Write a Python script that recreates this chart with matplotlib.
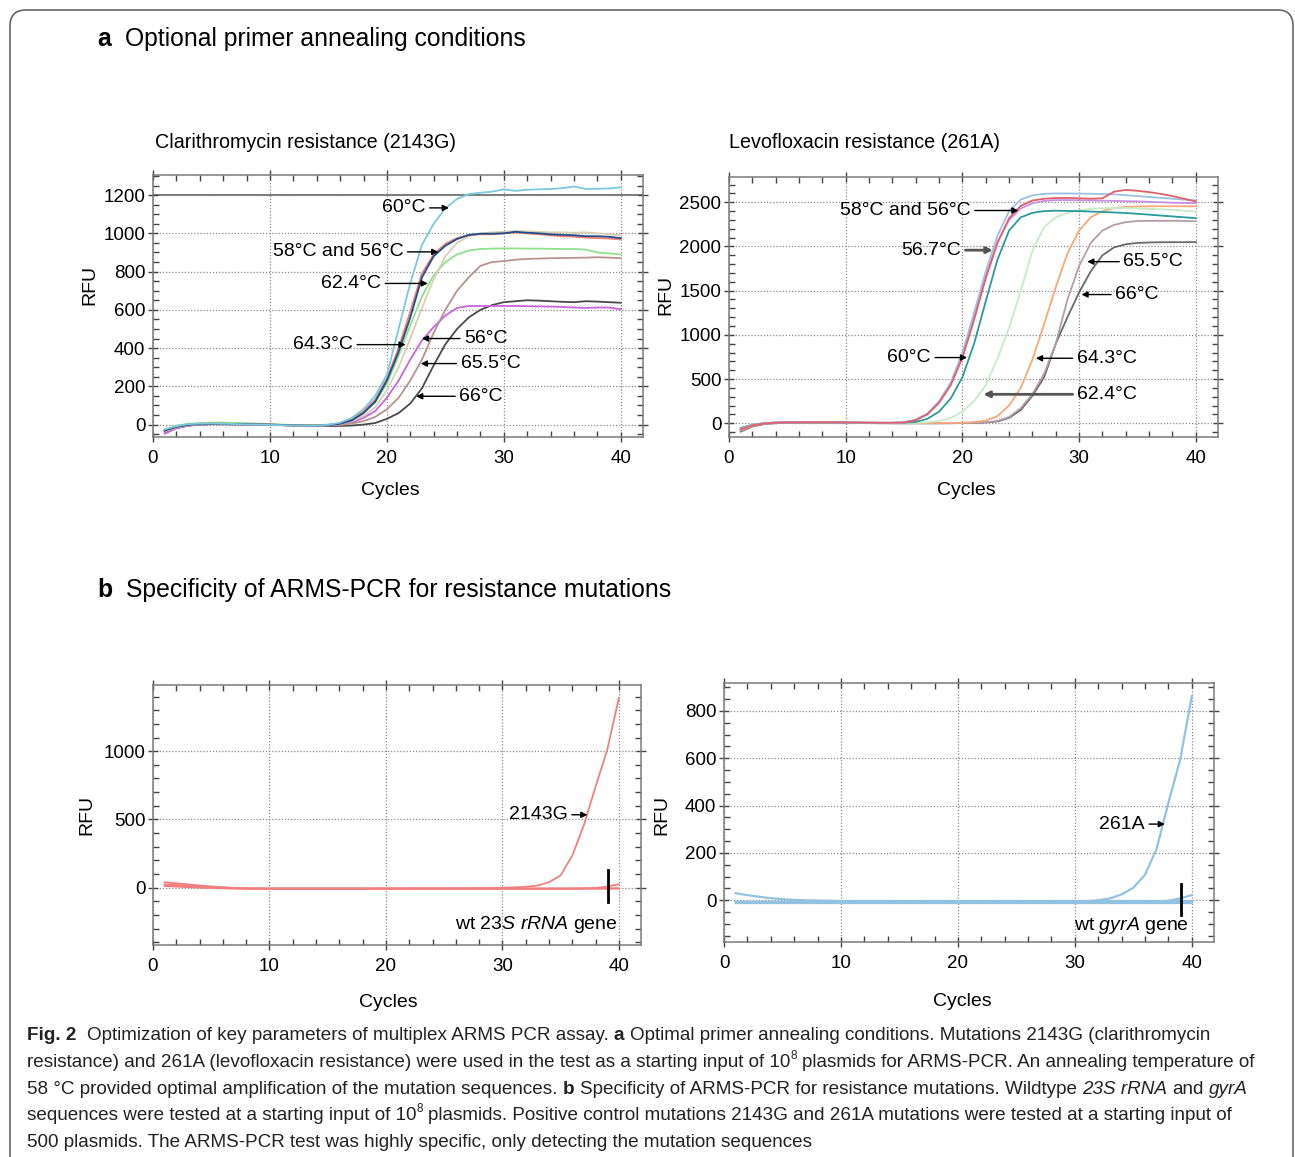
import matplotlib.pyplot as plt
from matplotlib.ticker import MultipleLocator, FixedLocator
from matplotlib import font_manager
from matplotlib.path import Path
from matplotlib.patches import PathPatch

# ---------------- data (RFU per cycle) ----------------
cycles = list(range(1, 41))

# a, left: Clarithromycin resistance (2143G)
tl_60 = [-25, -8, 2, 5, 6, 5, 3, 1, 0, -2, -3, -5, -6, -5, -1, 10, 35, 80, 150, 260,
         500, 740, 940, 1050, 1130, 1180, 1205, 1212, 1218, 1230, 1222, 1228, 1230, 1232, 1236, 1245, 1232, 1233, 1235, 1240]
tl_58 = [-30, -10, 0, 4, 5, 4, 3, 2, 1, 0, -2, -4, -5, -5, -2, 6, 28, 70, 130, 240,
         400, 590, 790, 890, 945, 975, 990, 995, 995, 1000, 1005, 1000, 995, 990, 985, 983, 978, 975, 973, 968]
tl_56a = [-32, -12, -2, 3, 4, 4, 3, 2, 1, 0, -2, -4, -5, -5, -3, 4, 22, 60, 120, 230,
          380, 560, 770, 880, 935, 970, 992, 998, 998, 1000, 1008, 1003, 1000, 995, 992, 990, 985, 985, 982, 975]
tl_643 = [-35, -14, -3, 2, 4, 4, 3, 2, 1, 0, -2, -4, -5, -5, -3, 3, 18, 45, 90, 180,
          300, 450, 610, 760, 880, 950, 985, 1000, 1005, 1008, 1012, 1010, 1008, 1005, 1005, 1003, 1005, 1000, 995, 990]
tl_624 = [-28, -6, 4, 8, 10, 10, 9, 7, 5, 3, 0, -2, -3, -3, 0, 6, 24, 62, 115, 215,
          360, 520, 670, 780, 850, 890, 910, 918, 920, 921, 921, 920, 920, 919, 918, 918, 915, 900, 895, 890]
tl_655 = [-38, -16, -4, 2, 3, 3, 2, 1, 0, -1, -3, -5, -6, -6, -5, -2, 5, 18, 40, 80,
          140, 230, 340, 480, 600, 700, 770, 830, 850, 855, 862, 866, 868, 870, 871, 872, 873, 875, 873, 870]
tl_56b = [-48, -20, -6, 0, 2, 2, 1, 0, -1, -2, -3, -5, -6, -6, -4, 0, 10, 35, 70, 140,
          230, 340, 440, 510, 570, 610, 620, 620, 620, 620, 620, 619, 618, 617, 615, 612, 610, 612, 612, 603]
tl_66 = [-40, -18, -5, 0, 2, 2, 1, 0, 0, -1, -3, -5, -7, -8, -8, -7, -5, 0, 8, 30,
         60, 110, 190, 310, 420, 500, 560, 600, 625, 640, 645, 650, 648, 645, 642, 640, 645, 643, 640, 637]

# a, right: Levofloxacin resistance (261A)
tr_58 = [-60, -20, 0, 8, 10, 12, 12, 12, 10, 10, 8, 6, 5, 5, 10, 40, 110, 250, 460, 800,
         1250, 1720, 2120, 2400, 2530, 2580, 2595, 2600, 2600, 2598, 2596, 2594, 2590, 2580, 2570, 2560, 2550, 2540, 2530, 2520]
tr_56 = [-70, -25, -3, 6, 9, 10, 11, 11, 10, 9, 8, 6, 5, 5, 9, 35, 100, 230, 430, 740,
         1170, 1640, 2040, 2320, 2460, 2520, 2540, 2548, 2550, 2545, 2540, 2545, 2620, 2640, 2630, 2615, 2595, 2570, 2540, 2510]
tr_567 = [-65, -22, -2, 7, 9, 11, 11, 11, 10, 9, 8, 6, 5, 5, 10, 38, 105, 240, 450, 770,
          1200, 1660, 2050, 2300, 2430, 2490, 2515, 2525, 2525, 2522, 2520, 2518, 2516, 2512, 2510, 2505, 2500, 2495, 2492, 2490]
tr_60 = [-55, -18, 0, 6, 8, 9, 10, 10, 9, 8, 7, 5, 4, 4, 6, 15, 50, 130, 280, 520,
         900, 1380, 1850, 2180, 2330, 2380, 2400, 2405, 2402, 2400, 2395, 2390, 2385, 2378, 2370, 2360, 2350, 2340, 2330, 2320]
tr_624 = [-50, -15, 2, 7, 9, 10, 10, 10, 9, 8, 7, 5, 4, 4, 4, 5, 10, 25, 60, 130,
          250, 430, 730, 1080, 1500, 1950, 2220, 2330, 2380, 2410, 2425, 2432, 2435, 2435, 2430, 2425, 2420, 2415, 2405, 2395]
tr_643 = [-75, -28, -5, 4, 7, 8, 9, 9, 8, 7, 6, 4, 3, 2, 2, 2, 2, 3, 4, 5,
          12, 30, 80, 200, 400, 720, 1120, 1540, 1920, 2180, 2330, 2400, 2435, 2448, 2452, 2455, 2455, 2455, 2455, 2455]
tr_655 = [-85, -32, -8, 2, 5, 6, 7, 7, 6, 5, 4, 2, 1, 0, 0, 0, 0, 0, 1, 3,
          6, 10, 25, 70, 170, 330, 560, 900, 1400, 1780, 2040, 2180, 2245, 2275, 2288, 2290, 2290, 2290, 2288, 2285]
tr_66 = [-95, -38, -10, 0, 4, 5, 6, 6, 5, 4, 3, 1, 0, -1, -1, -1, -1, -1, 0, 2,
         4, 8, 20, 60, 150, 310, 520, 900, 1200, 1480, 1720, 1900, 1990, 2025, 2040, 2045, 2048, 2048, 2048, 2050]

# b, left: 2143G positive control + wild type 23S rRNA
bl_2143g = [12, 8, 4, 0, -3, -5, -6, -7, -7, -7, -7, -7, -7, -7, -7, -7, -7, -7, -6, -6,
            -6, -6, -5, -5, -5, -4, -4, -3, -2, 0, 2, 6, 15, 40, 90, 235, 460, 740, 1010, 1390]
bl_wt1 = [40, 32, 24, 16, 9, 3, -2, -5, -7, -8, -8, -8, -8, -8, -8, -8, -8, -8, -8, -8,
          -8, -8, -8, -8, -8, -8, -8, -8, -8, -8, -8, -8, -8, -8, -8, -8, -8, -7, -6, -5]
bl_wt2 = [15, 12, 8, 4, 0, -3, -5, -6, -7, -7, -7, -7, -7, -7, -7, -7, -7, -7, -7, -7,
          -7, -7, -7, -7, -7, -7, -7, -7, -7, -7, -7, -7, -7, -7, -7, -6, -5, -2, 8, 25]
bl_wt3 = [25, 20, 14, 9, 4, 0, -3, -5, -6, -6, -6, -6, -6, -6, -6, -6, -6, -6, -6, -6,
          -6, -6, -6, -6, -6, -6, -6, -6, -6, -6, -6, -6, -6, -6, -6, -6, -6, -6, -6, -6]

# b, right: 261A positive control + wild type gyrA
br_261a = [-6, -6, -6, -6, -6, -6, -6, -6, -6, -6, -6, -6, -6, -6, -6, -6, -6, -6, -6, -6,
           -6, -6, -6, -6, -6, -6, -6, -6, -6, -6, -4, 0, 8, 25, 53, 108, 219, 412, 592, 862]
br_wt1 = [30, 22, 15, 9, 5, 2, 0, -1, -2, -3, -3, -3, -3, -3, -3, -3, -3, -3, -3, -3,
          -3, -3, -3, -3, -3, -3, -3, -3, -3, -3, -3, -3, -3, -3, -3, -3, -3, -3, -3, -3]
br_wt2 = [-10, -10, -10, -10, -10, -10, -10, -10, -10, -10, -10, -10, -10, -10, -10, -10, -10, -10, -10, -10,
          -10, -10, -10, -10, -10, -10, -10, -10, -10, -10, -10, -10, -10, -10, -10, -10, -10, -10, -10, -10]
br_wt3 = [-8, -8, -8, -8, -8, -8, -8, -8, -8, -8, -8, -8, -8, -8, -8, -8, -8, -8, -8, -8,
          -8, -8, -8, -8, -8, -8, -8, -8, -8, -8, -8, -8, -8, -8, -8, -7, -5, -2, 8, 22]

# ---------------- figure ----------------
W, H = 1295, 1157
plt.rcParams['font.family'] = ['Liberation Sans', 'DejaVu Sans']
plt.rcParams['mathtext.fontset'] = 'custom'
plt.rcParams['mathtext.rm'] = 'Liberation Sans'
plt.rcParams['mathtext.it'] = 'Liberation Sans:italic'

fig = plt.figure(figsize=(W / 100, H / 100), dpi=100)
renderer = fig.canvas.get_renderer()


def fx(x):
    return x / W


def fy(y):
    return 1 - y / H


def axes_at(left, top, right, bottom):
    return fig.add_axes([fx(left), fy(bottom), (right - left) / W, (bottom - top) / H])


def style_axes(ax, ylim, yticks, yminor):
    ax.set_xlim(0, 41.9)
    ax.set_ylim(*ylim)
    ax.xaxis.set_major_locator(MultipleLocator(10))
    ax.xaxis.set_minor_locator(MultipleLocator(2))
    ax.yaxis.set_major_locator(FixedLocator(yticks))
    ax.yaxis.set_minor_locator(MultipleLocator(yminor))
    ax.tick_params(which='major', direction='inout', length=7, width=1, color='#444',
                   labelsize=13.5, top=True, right=True)
    ax.tick_params(axis='x', which='major', pad=6)
    ax.tick_params(axis='y', which='major', pad=2)
    ax.tick_params(which='minor', direction='in', length=4, width=1, color='#444',
                   top=True, right=True)
    ax.grid(True, which='major', color='#8a8a8a', linestyle=(0, (1, 1.5)), linewidth=0.9)
    for s in ax.spines.values():
        s.set_color('#7a7a7a')
        s.set_linewidth(1.1)
    ax.set_xlabel('Cycles', fontsize=14)
    ax.set_ylabel('RFU', fontsize=14)


arrow_kw = dict(arrowstyle='-|>', color='black', lw=1, mutation_scale=9, shrinkA=1, shrinkB=0)


def label_left(ax, text, tip, text_end, y, lw=1, color='black'):
    # text on the left, arrow pointing right
    ax.annotate(text, xy=(tip, y), xytext=(text_end, y), ha='right', va='center', fontsize=14,
                arrowprops=dict(arrow_kw, relpos=(1, 0.5), lw=lw, color=color))


def label_right(ax, text, tip, text_start, y, lw=1, color='black'):
    ax.annotate(text, xy=(tip, y), xytext=(text_start, y), ha='left', va='center', fontsize=14,
                arrowprops=dict(arrow_kw, relpos=(0, 0.5), lw=lw, color=color))


# frame around the figure
frame = Path([(fx(10), fy(1175)), (fx(10), fy(26)), (fx(10), fy(10)), (fx(26), fy(10)),
              (fx(1278), fy(10)), (fx(1293), fy(10)), (fx(1293), fy(26)), (fx(1293), fy(1175))],
             [Path.MOVETO, Path.LINETO, Path.CURVE3, Path.CURVE3,
              Path.LINETO, Path.CURVE3, Path.CURVE3, Path.LINETO])
fig.add_artist(PathPatch(frame, transform=fig.transFigure, facecolor='none',
                         edgecolor='#666666', lw=1.2))

# section headings
fig.text(fx(97), fy(39), 'a', fontsize=17.8, fontweight='bold', va='center')
fig.text(fx(125), fy(39), 'Optional primer annealing conditions', fontsize=17.8, va='center')
fig.text(fx(97), fy(590), 'b', fontsize=17.8, fontweight='bold', va='center')
fig.text(fx(126), fy(590), 'Specificity of ARMS-PCR for resistance mutations', fontsize=17.8, va='center')
fig.text(fx(155), fy(143), 'Clarithromycin resistance (2143G)', fontsize=14.2, va='center')
fig.text(fx(729), fy(143), 'Levofloxacin resistance (261A)', fontsize=14.2, va='center')

# ---- a, left ----
ax1 = axes_at(153, 175, 643, 437)
style_axes(ax1, (-65, 1305), [0, 200, 400, 600, 800, 1000, 1200], 50)
ax1.axhline(1200, color='#555555', lw=1.1, zorder=1.5)
for ys, c in [(tl_66, '#4a4a4a'), (tl_56b, '#c864dc'), (tl_655, '#b8928c'), (tl_624, '#90e08c'),
              (tl_643, '#d9cfb2'), (tl_58, '#f27a6c'), (tl_56a, '#1f4f8e'), (tl_60, '#7cc8dc')]:
    ax1.plot(cycles, ys, color=c, lw=1.3)
label_left(ax1, '60°C', 25.3, 23.3, 1133)
label_left(ax1, '58°C and 56°C', 24.4, 21.4, 903)
label_left(ax1, '62.4°C', 23.5, 19.5, 738)
label_left(ax1, '64.3°C', 21.6, 17.1, 418)
label_right(ax1, '56°C', 23.0, 26.6, 450)
label_right(ax1, '65.5°C', 22.9, 26.3, 319)
label_right(ax1, '66°C', 22.5, 26.2, 148)
ax1.yaxis.set_label_coords(-0.112, 0.58)
ax1.xaxis.set_label_coords(0.484, -0.172)

# ---- a, right ----
ax2 = axes_at(729, 177, 1218, 437)
style_axes(ax2, (-156, 2786), [0, 500, 1000, 1500, 2000, 2500], 100)
for ys, c in [(tr_66, '#6a6a6a'), (tr_655, '#b49ca8'), (tr_643, '#f7a87a'), (tr_624, '#c6ecc6'),
              (tr_60, '#2a9a9c'), (tr_567, '#c890e0'), (tr_58, '#9ec0e2'), (tr_56, '#e0606e')]:
    ax2.plot(cycles, ys, color=c, lw=1.3)
label_left(ax2, '58°C and 56°C', 24.8, 20.7, 2407)
label_left(ax2, '56.7°C', 22.6, 19.9, 1958, lw=2, color='#555555')
label_left(ax2, '60°C', 20.4, 17.3, 743)
label_right(ax2, '64.3°C', 26.3, 29.8, 735)
label_right(ax2, '62.4°C', 21.8, 29.8, 327, lw=2, color='#555555')
label_right(ax2, '65.5°C', 30.7, 33.8, 1828)
label_right(ax2, '66°C', 30.2, 33.1, 1456)
ax2.yaxis.set_label_coords(-0.112, 0.546)
ax2.xaxis.set_label_coords(0.485, -0.172)

# ---- b, left ----
ax3 = axes_at(153, 685, 641, 945)
style_axes(ax3, (-420, 1485), [0, 500, 1000], 100)
for ys in [bl_wt1, bl_wt2, bl_wt3, bl_2143g]:
    ax3.plot(cycles, ys, color='#f08080', lw=1.3)
ax3.plot([39.1, 39.1], [126, -104], color='black', lw=2)
label_left(ax3, '2143G', 37.3, 35.6, 534)
ax3.text(39.9, -270, r'wt $\mathit{23S\ rRNA}$ gene', ha='right', va='center', fontsize=14)
ax3.yaxis.set_label_coords(-0.119, 0.5)
ax3.xaxis.set_label_coords(0.482, -0.19)

# ---- b, right ----
ax4 = axes_at(724, 683, 1214, 942)
style_axes(ax4, (-176, 918), [0, 200, 400, 600, 800], 50)
for ys in [br_wt1, br_wt2, br_wt3, br_261a]:
    ax4.plot(cycles, ys, color='#92c2e2', lw=1.6)
ax4.plot([39.1, 39.1], [69, -61], color='black', lw=2)
label_left(ax4, '261A', 37.7, 36.0, 322)
ax4.text(39.8, -107, r'wt $\mathit{gyrA}$ gene', ha='right', va='center', fontsize=14)
ax4.yaxis.set_label_coords(-0.110, 0.49)
ax4.xaxis.set_label_coords(0.486, -0.195)

# ---------------- caption ----------------
names = {f.name for f in font_manager.fontManager.ttflist}
cap_family = 'Liberation Sans Narrow' if 'Liberation Sans Narrow' in names else 'Liberation Sans'

caption = [
    [('Fig. 2', 'b'), ('  Optimization of key parameters of multiplex ARMS PCR assay. ', 'n'), ('a', 'b'),
     (' Optimal primer annealing conditions. Mutations 2143G (clarithromycin', 'n')],
    [('resistance) and 261A (levofloxacin resistance) were used in the test as a starting input of 10', 'n'),
     ('8', 's'), (' plasmids for ARMS-PCR. An annealing temperature of', 'n')],
    [('58 °C provided optimal amplification of the mutation sequences. ', 'n'), ('b', 'b'),
     (' Specificity of ARMS-PCR for resistance mutations. Wildtype ', 'n'), ('23S rRNA', 'i'),
     (' and ', 'n'), ('gyrA', 'i')],
    [('sequences were tested at a starting input of 10', 'n'), ('8', 's'),
     (' plasmids. Positive control mutations 2143G and 261A mutations were tested at a starting input of', 'n')],
    [('500 plasmids. The ARMS-PCR test was highly specific, only detecting the mutation sequences', 'n')],
]
cap_baselines = [1040, 1067, 1094, 1120, 1147]


def run_kw(style, size):
    kw = dict(family=cap_family, fontsize=size, color='#222222')
    if style == 'b':
        kw['fontweight'] = 'bold'
    elif style == 'i':
        kw['fontstyle'] = 'italic'
    elif style == 's':
        kw['fontsize'] = size * 0.62
    return kw


def width_of(s, kw):
    t = fig.text(0, 0, s, **kw)
    w = t.get_window_extent(renderer).width
    t.remove()
    return w


def draw_runs(x, y, runs, size, draw=True):
    space = width_of('a a', run_kw('n', size)) - width_of('aa', run_kw('n', size))
    for s, st in runs:
        kw = run_kw(st, size)
        core = s.strip(' ')
        x += (len(s) - len(s.lstrip(' '))) * space
        if core:
            dy = size * 100 / 72 * 0.42 if st == 's' else 0
            if draw:
                t = fig.text(fx(x), fy(y - dy), core, ha='left', va='baseline', **kw)
                x += t.get_window_extent(renderer).width
            else:
                x += width_of(core, kw)
        x += (len(s) - len(s.rstrip(' '))) * space
    return x


cap_size = 13.5
line_w = draw_runs(27, 0, caption[1], cap_size, draw=False) - 27
cap_size = cap_size * 1233 / line_w
for runs, yb in zip(caption, cap_baselines):
    draw_runs(27, yb, runs, cap_size)

fig.savefig('out.png', dpi=100)
